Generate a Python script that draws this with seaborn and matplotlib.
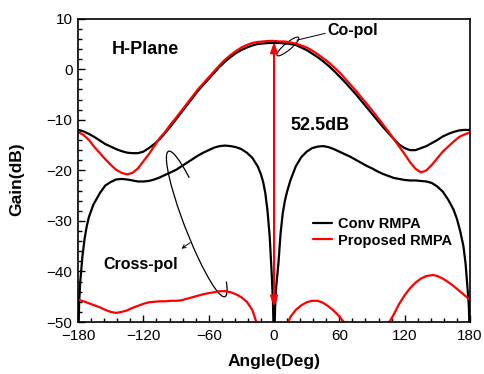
import numpy as np
import pandas as pd
import seaborn as sns
import matplotlib.pyplot as plt
from matplotlib.patches import Ellipse, Arc
from matplotlib.transforms import ScaledTranslation
from matplotlib.ticker import MultipleLocator

# data
co_angle = [-180, -175, -170, -165, -160, -155, -150, -145, -140, -135, -130, -125,
            -120, -115, -110, -105, -100, -95, -90, -85, -80, -75, -70, -65,
            -60, -55, -50, -45, -40, -35, -30, -25, -20, -15, -10, -5, 0,
            5, 10, 15, 20, 25, 30, 35, 40, 45, 50, 55, 60, 65, 70, 75, 80,
            85, 90, 95, 100, 105, 110, 115, 120, 125, 130, 135, 140, 145, 150,
            155, 160, 165, 170, 175, 180]
conv_co = [-12.0, -12.3, -12.8, -13.4, -14.1, -14.8, -15.3, -15.8, -16.2, -16.5,
           -16.6, -16.6, -16.3, -15.6, -14.8, -13.8, -12.6, -11.3, -9.9, -8.5,
           -7.1, -5.7, -4.3, -3.1, -1.9, -0.7, 0.5, 1.5, 2.4, 3.2,
           3.8, 4.3, 4.7, 5.0, 5.1, 5.2, 5.2,
           5.2, 5.1, 5.0, 4.8, 4.3, 3.8, 3.1, 2.4, 1.6, 0.7,
           -0.3, -1.4, -2.5, -3.7, -4.9, -6.2, -7.5, -8.8, -10.1, -11.4,
           -12.6, -13.8, -14.9, -15.6, -16.0, -16.0, -15.6, -15.2, -14.6, -14.0,
           -13.3, -12.8, -12.4, -12.1, -12.0, -12.0]
prop_co = [-12.4, -13.0, -14.0, -15.4, -16.6, -17.8, -18.9, -19.9, -20.5, -20.8,
           -20.5, -19.6, -18.2, -16.8, -15.2, -13.6, -12.4, -10.9, -9.6, -8.2,
           -6.8, -5.4, -4.0, -2.8, -1.6, -0.4, 0.8, 1.9, 2.8, 3.6,
           4.3, 4.8, 5.2, 5.4, 5.5, 5.6, 5.6,
           5.5, 5.5, 5.3, 5.1, 4.7, 4.3, 3.7, 3.0, 2.2, 1.4,
           0.4, -0.6, -1.8, -3.0, -4.2, -5.5, -6.8, -8.1, -9.5, -10.9,
           -12.3, -13.8, -15.3, -16.8, -18.4, -19.7, -20.4, -20.0, -18.9, -17.6,
           -16.3, -15.3, -14.3, -13.4, -12.9, -12.5]

conv_x_angle = [-180, -179, -178, -176, -174, -172, -170, -166, -160, -155, -150, -145,
                -140, -135, -130, -125, -120, -115, -110, -105, -100, -95, -90, -85,
                -80, -75, -70, -65, -60, -55, -50, -45, -40, -35, -30, -25,
                -20, -15, -12, -10, -8, -6, -4, -2, -1, 0,
                1, 2, 4, 6, 8, 10, 12, 15, 20, 25, 30, 35, 40, 45, 50, 55,
                60, 65, 70, 75, 80, 85, 90, 95, 100, 105, 110, 115, 120, 125,
                130, 135, 140, 145, 150, 155, 160, 165, 168, 171, 174, 176, 178, 179, 180]
conv_x = [-55, -46, -42, -37, -33.5, -31, -29.2, -26.8, -24.5, -23.0, -22.3, -21.8,
          -21.7, -21.8, -22.0, -22.2, -22.2, -22.1, -21.8, -21.4, -20.9, -20.4, -19.9, -19.2,
          -18.5, -17.8, -17.1, -16.5, -16.0, -15.5, -15.2, -15.1, -15.2, -15.4, -15.8, -16.5,
          -17.5, -19.2, -20.8, -22.3, -24.5, -28.0, -33.0, -41.0, -46, -55,
          -47, -43, -38.5, -32.5, -28.5, -26.0, -24.2, -22.0, -19.2, -17.4, -16.3, -15.6,
          -15.3, -15.2, -15.4, -15.8,
          -16.3, -16.8, -17.3, -17.9, -18.5, -19.1, -19.6, -20.2, -20.7, -21.1, -21.5, -21.7,
          -21.9, -22.0, -22.0, -22.1, -22.2, -22.5, -23.2, -24.2, -25.8, -27.8, -29.6, -32.0,
          -35.0, -38.5, -44.0, -47.0, -55]

prop_x_angle = [-180, -175, -170, -165, -160, -155, -150, -145, -140, -135, -130, -125,
                -120, -115, -110, -105, -100, -95, -90, -85, -80, -75, -70, -65,
                -60, -55, -50, -45, -40, -35, -30, -25, -20, -17, -15, -10, 0,
                5, 10, 13, 15, 20, 25, 30, 35, 40, 45, 50, 55, 60, 64, 70, 85,
                100, 106, 110, 115, 120, 125, 130, 135, 140, 146, 150, 155, 160,
                165, 170, 175, 180]
prop_x = [-45.6, -45.9, -46.3, -46.7, -47.1, -47.6, -48.0, -48.2, -48.0, -47.7, -47.2, -46.8,
          -46.4, -46.1, -46.0, -45.9, -45.9, -45.8, -45.8, -45.7, -45.4, -45.1, -44.8, -44.5,
          -44.3, -44.1, -43.9, -43.9, -44.1, -44.5, -45.1, -46.0, -47.6, -49.5, -51, -56, -60,
          -58, -53, -50, -49.0, -47.6, -46.7, -46.1, -45.8, -45.8, -46.2, -46.9, -47.8, -48.9,
          -50.0, -52, -55,
          -52, -50, -48.5, -46.4, -44.7, -43.3, -42.2, -41.4, -40.9, -40.7, -40.9, -41.4, -42.1,
          -42.9, -43.8, -44.7, -45.6]

names = ['Conv RMPA', 'Proposed RMPA']
colors = {'Conv RMPA': 'black', 'Proposed RMPA': 'red'}

frames = []
for name, pol, ang, val in [(names[0], 'co', co_angle, conv_co),
                            (names[1], 'co', co_angle, prop_co),
                            (names[0], 'cross', conv_x_angle, conv_x),
                            (names[1], 'cross', prop_x_angle, prop_x)]:
    frames.append(pd.DataFrame({'Angle': ang, 'Gain': val, 'Antenna': name, 'Pol': pol}))
df = pd.concat(frames, ignore_index=True)

sns.set_theme(style='ticks')
plt.rcParams['font.family'] = ['Liberation Sans', 'DejaVu Sans']
plt.rcParams['text.color'] = 'black'
plt.rcParams['axes.labelcolor'] = 'black'
plt.rcParams['xtick.color'] = 'black'
plt.rcParams['ytick.color'] = 'black'

fig = plt.figure(figsize=(4.85, 3.74), dpi=100)
ax = fig.add_axes([0.161, 0.139, 0.808, 0.811])

sns.lineplot(data=df, x='Angle', y='Gain', hue='Antenna', hue_order=names,
             units='Pol', estimator=None, sort=False, palette=colors,
             linewidth=1.6, ax=ax)

ax.set_xlim(-180, 180)
ax.set_ylim(-50, 10)
ax.xaxis.set_major_locator(MultipleLocator(60))
ax.xaxis.set_minor_locator(MultipleLocator(12))
ax.yaxis.set_major_locator(MultipleLocator(10))
ax.yaxis.set_minor_locator(MultipleLocator(2))
ax.tick_params(which='both', direction='in', top=False, right=False,
               labelsize=11, width=1, colors='black', labelcolor='black')
ax.tick_params(which='major', length=5, pad=4)
ax.tick_params(which='minor', length=3)
ax.tick_params(axis='x', which='major', pad=5)
for s in ax.spines.values():
    s.set_visible(True)
    s.set_linewidth(1.2)
    s.set_color('black')

ax.set_xlabel('Angle(Deg)', fontsize=12.5, fontweight='bold', color='black')
ax.set_ylabel('Gain(dB)', fontsize=12.5, fontweight='bold', color='black')
ax.xaxis.set_label_coords(0.5, -0.105)
ax.yaxis.set_label_coords(-0.138, 0.47)

sns.move_legend(ax, 'upper left', bbox_to_anchor=(0.6, 0.345), title=None,
                frameon=False, prop={'weight': 'bold', 'size': 10.5},
                handlelength=1.3, handletextpad=0.4, labelspacing=0.15,
                borderpad=0, borderaxespad=0, labelcolor='black')

# annotations
ax.text(-149.4, 4.0, 'H-Plane', fontsize=13, fontweight='bold', va='center', color='black')
ax.text(15, -11.1, '52.5dB', fontsize=13, fontweight='bold', va='center', color='black')
ax.text(48.6, 7.6, 'Co-pol', fontsize=11.5, fontweight='bold', va='center', color='black')
ax.text(-156.8, -38.6, 'Cross-pol', fontsize=11.5, fontweight='bold', va='center', color='black')

ax.annotate('', xy=(0, 5.4), xytext=(0, -47),
            arrowprops=dict(arrowstyle='<|-|>,head_length=0.5,head_width=0.18',
                            color='red', lw=1.5, shrinkA=0, shrinkB=0))

ax.add_patch(Ellipse((0, 0), 0.28, 0.07, angle=40, fill=False, ec='black', lw=0.8,
                     transform=fig.dpi_scale_trans + ScaledTranslation(12.7, 4.5, ax.transData)))
ax.plot([21, 47], [5.75, 7.1], color='black', lw=0.7)

ax.add_patch(Arc((0, 0), 1.56, 0.24, angle=-68.8, theta1=168, theta2=6,
                 ec='black', lw=0.9,
                 transform=fig.dpi_scale_trans + ScaledTranslation(-71.0, -30.6, ax.transData)))
ax.annotate('', xy=(-85, -35.5), xytext=(-77, -34.3),
            arrowprops=dict(arrowstyle='->', lw=0.7, color='black',
                            shrinkA=0, shrinkB=0, mutation_scale=6))

fig.savefig('out.png', dpi=100)
